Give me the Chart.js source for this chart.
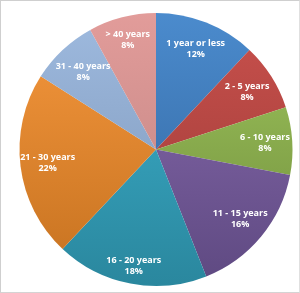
<!DOCTYPE html>
<html><head><meta charset="utf-8">
<script src="https://cdn.jsdelivr.net/npm/chart.js@4/dist/chart.umd.min.js"></script>
<style>
html,body{margin:0;padding:0;background:#fff;}
#wrap{position:relative;width:300px;height:293px;box-sizing:border-box;border:1px solid #cfcfcf;border-right-color:#e0e0e0;border-bottom-color:#d4d4d4;}
canvas{position:absolute;left:-1px;top:-1px;}
</style></head>
<body><div id="wrap"><canvas id="c" width="300" height="293"></canvas></div>
<script>
const categories = ["1 year or less","2 - 5 years","6 - 10 years","11 - 15 years","16 - 20 years","21 - 30 years","31 - 40 years","> 40 years"];
const percents = [12, 8, 8, 16, 18, 22, 8, 8];

const topColors = ["#4b8bcd","#c9514d","#a0c75d","#8a6cb0","#3db2ce","#f6983e","#9ebadf","#e29c9a"];
const botColors = ["#30639c","#9a3935","#6e8b3b","#5e4981","#2a879e","#c5711f","#7c95b7","#bd8280"];
const labelDist = [0.79, 0.79, 0.80, 0.80, 0.87, 0.80, 0.78, 0.83];

const labelPlugin = {
  id: 'lbl',
  afterDatasetsDraw(chart) {
    const ctx = chart.ctx;
    const meta = chart.getDatasetMeta(0);
    ctx.save();
    ctx.fillStyle = '#fff';
    ctx.textAlign = 'center';
    ctx.textBaseline = 'middle';
    ctx.font = 'bold 9px "Open Sans", sans-serif';
    meta.data.forEach((arc, i) => {
      const p = arc.getProps(['x','y','startAngle','endAngle','outerRadius'], true);
      const a = (p.startAngle + p.endAngle) / 2;
      const r = p.outerRadius * labelDist[i];
      const x = p.x + Math.cos(a) * r, y = p.y + Math.sin(a) * r;
      ctx.fillText(chart.data.labels[i], x, y - 5.5);
      ctx.fillText(percents[i] + '%', x, y + 5.5);
    });
    ctx.restore();
  }
};

function grad(ctx, chartArea, i) {
  const g = ctx.createLinearGradient(0, chartArea.top, 0, chartArea.bottom);
  g.addColorStop(0, topColors[i]);
  g.addColorStop(1, botColors[i]);
  return g;
}

new Chart(document.getElementById('c'), {
  type: 'pie',
  data: {
    labels: categories,
    datasets: [{
      data: percents,
      backgroundColor: (c) => {
        const ca = c.chart.chartArea;
        if (!ca) return topColors[c.dataIndex];
        return grad(c.chart.ctx, ca, c.dataIndex);
      },
      borderWidth: 0
    }]
  },
  options: {
    responsive: false,
    animation: false,
    layout: { padding: { left: 19, right: 7, top: 13, bottom: 7 } },
    plugins: { legend: { display: false }, tooltip: { enabled: false } }
  },
  plugins: [labelPlugin]
});
</script></body></html>
